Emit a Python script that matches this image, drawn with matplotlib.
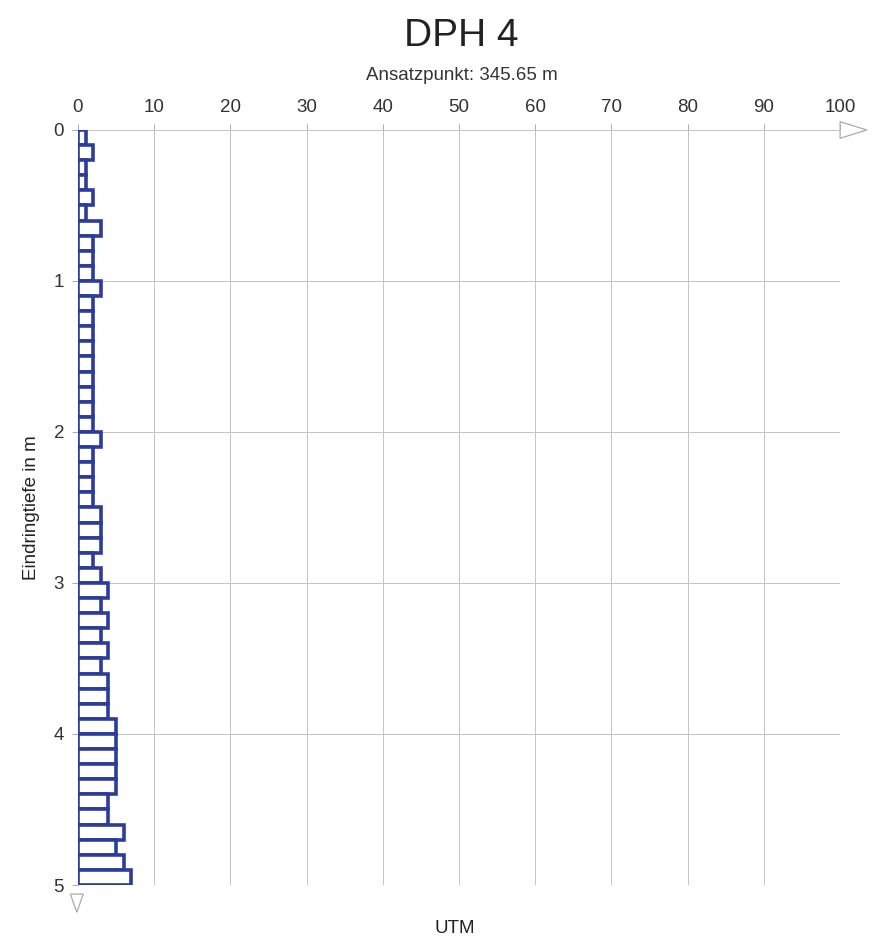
import numpy as np
import matplotlib.pyplot as plt
from matplotlib.patches import Polygon

plt.rcParams['font.family'] = ['Liberation Sans', 'DejaVu Sans']

# Schlagzahlen je 10 cm (DPH 4)
tiefe_oben = np.round(np.arange(0.0, 5.0, 0.1), 1)
schlaege = [1, 2, 1, 1, 2, 1, 3, 2, 2, 2,
            3, 2, 2, 2, 2, 2, 2, 2, 2, 2,
            3, 2, 2, 2, 2, 3, 3, 3, 2, 3,
            4, 3, 4, 3, 4, 3, 4, 4, 4, 5,
            5, 5, 5, 5, 4, 4, 6, 5, 6, 7]
x_ticks = list(range(0, 101, 10))
y_ticks = [0, 1, 2, 3, 4, 5]

fig = plt.figure(figsize=(8.74, 9.44), dpi=100)
ax = fig.add_axes([0.0892, 0.0625, 0.872, 0.7998])

ax.barh(tiefe_oben, schlaege, height=0.1, align='edge', color='white',
        edgecolor='#2b3c9c', linewidth=2.6, zorder=3)

ax.set_xlim(0, 100)
ax.set_ylim(5, 0)
ax.xaxis.tick_top()
ax.set_xticks(x_ticks)
ax.set_yticks(y_ticks)
ax.tick_params(axis='both', labelsize=13.5, colors='#aaaaaa', labelcolor='#333333',
               length=4, width=0.7)
ax.tick_params(axis='x', pad=6)
ax.tick_params(axis='y', pad=6)
ax.grid(True, color='#c4c4c4', linewidth=0.7)
for s in ax.spines.values():
    s.set_visible(False)

ax.set_ylabel('Eindringtiefe in m', fontsize=13.5, color='#222222', labelpad=10)
fig.text(0.52, 0.012, 'UTM', ha='center', fontsize=13.5, color='#222222')
fig.text(0.528, 0.962, 'DPH 4', ha='center', va='center', fontsize=28, color='#222222')
fig.text(0.528, 0.920, 'Ansatzpunkt: 345.65 m', ha='center', va='center', fontsize=13.5,
         color='#333333')

# Achsenpfeile
arr_x = Polygon([[1.0, 1.011], [1.035, 1.0], [1.0, 0.989]], closed=True,
                transform=ax.transAxes, clip_on=False, fill=False,
                edgecolor='#aaaaaa', linewidth=0.9)
arr_y = Polygon([[-0.01, -0.012], [0.007, -0.012], [-0.0015, -0.036]], closed=True,
                transform=ax.transAxes, clip_on=False, fill=False,
                edgecolor='#aaaaaa', linewidth=0.9)
ax.add_patch(arr_x)
ax.add_patch(arr_y)

fig.savefig('out.png', dpi=100)
